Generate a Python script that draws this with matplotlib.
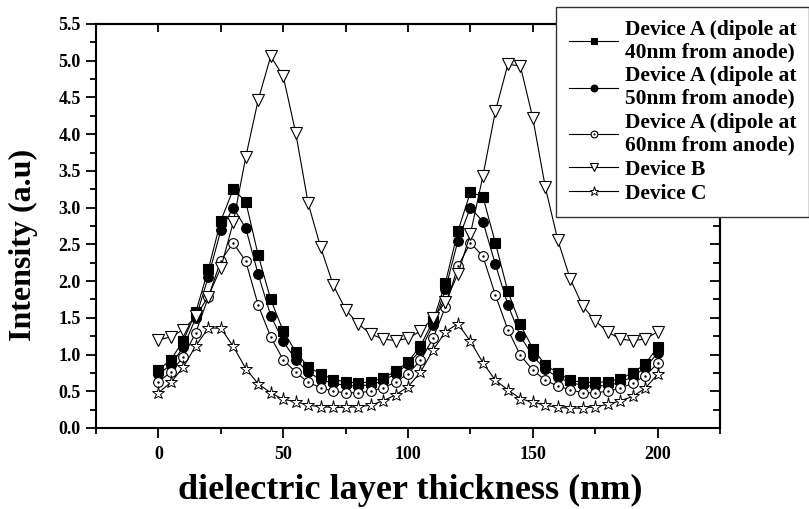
import matplotlib
matplotlib.use("Agg")
import matplotlib.pyplot as plt
from matplotlib.ticker import MultipleLocator

# thickness of the dielectric layer (nm)
thickness = [0, 5, 10, 15, 20, 25, 30, 35, 40, 45, 50, 55, 60, 65, 70, 75, 80,
             85, 90, 95, 100, 105, 110, 115, 120, 125, 130, 135, 140, 145, 150,
             155, 160, 165, 170, 175, 180, 185, 190, 195, 200]

# Device A, dipole 40nm from anode
dev_a40 = [0.79, 0.93, 1.19, 1.58, 2.16, 2.82, 3.25, 3.08, 2.35, 1.75, 1.32,
           1.04, 0.83, 0.74, 0.66, 0.63, 0.61, 0.63, 0.68, 0.77, 0.90, 1.12,
           1.45, 1.98, 2.68, 3.21, 3.15, 2.52, 1.86, 1.41, 1.08, 0.86, 0.75,
           0.65, 0.62, 0.62, 0.63, 0.67, 0.75, 0.87, 1.10]
# Device A, dipole 50nm from anode
dev_a50 = [0.73, 0.86, 1.10, 1.50, 2.06, 2.69, 3.00, 2.72, 2.09, 1.53, 1.18,
           0.93, 0.76, 0.66, 0.61, 0.58, 0.57, 0.59, 0.64, 0.74, 0.87, 1.06,
           1.40, 1.89, 2.55, 3.00, 2.81, 2.23, 1.68, 1.25, 0.98, 0.80, 0.69,
           0.62, 0.58, 0.57, 0.58, 0.62, 0.70, 0.82, 1.02]
# Device A, dipole 60nm from anode
dev_a60 = [0.63, 0.76, 0.97, 1.30, 1.78, 2.28, 2.52, 2.27, 1.67, 1.24, 0.93,
           0.76, 0.62, 0.55, 0.50, 0.48, 0.48, 0.50, 0.55, 0.62, 0.74, 0.92,
           1.22, 1.65, 2.20, 2.52, 2.34, 1.81, 1.34, 0.99, 0.79, 0.65, 0.57,
           0.52, 0.48, 0.48, 0.50, 0.54, 0.61, 0.71, 0.88]
# Device B
dev_b = [1.20, 1.24, 1.34, 1.52, 1.79, 2.18, 2.80, 3.69, 4.47, 5.06, 4.79,
         4.02, 3.06, 2.46, 1.95, 1.61, 1.42, 1.28, 1.21, 1.19, 1.22, 1.32,
         1.50, 1.71, 2.10, 2.64, 3.43, 4.31, 4.95, 4.93, 4.22, 3.28, 2.56,
         2.03, 1.66, 1.46, 1.31, 1.21, 1.19, 1.21, 1.31]
# Device C
dev_c = [0.48, 0.62, 0.83, 1.12, 1.36, 1.36, 1.11, 0.81, 0.60, 0.48, 0.39,
         0.36, 0.31, 0.29, 0.28, 0.28, 0.29, 0.31, 0.37, 0.45, 0.56, 0.76,
         1.06, 1.31, 1.42, 1.18, 0.89, 0.65, 0.52, 0.40, 0.35, 0.31, 0.28,
         0.27, 0.27, 0.29, 0.32, 0.37, 0.43, 0.54, 0.73]

labels = ["Device A (dipole at\n40nm from anode)",
          "Device A (dipole at\n50nm from anode)",
          "Device A (dipole at\n60nm from anode)",
          "Device B",
          "Device C"]

plt.rcParams['font.family'] = ['Liberation Serif', 'DejaVu Serif']
plt.rcParams['font.weight'] = 'bold'

W, H = 809, 509
fig = plt.figure(figsize=(W / 100, H / 100), dpi=100)
ax = fig.add_axes([96 / W, 1 - 428 / H, 624 / W, 404 / H])

lw = 0.8
l1, = ax.plot(thickness, dev_a40, '-s', color='black', lw=lw, ms=6.5,
              mfc='black', mec='black', mew=0.8)
l2, = ax.plot(thickness, dev_a50, '-o', color='black', lw=lw, ms=7,
              mfc='black', mec='black', mew=0.8)
l3, = ax.plot(thickness, dev_a60, '-o', color='black', lw=lw, ms=7,
              mfc='white', mec='black', mew=0.8)
l3dot, = ax.plot(thickness, dev_a60, '.', color='black', ms=1.5)
l4, = ax.plot(thickness, dev_b, '-v', color='black', lw=lw, ms=9,
              mfc='white', mec='black', mew=0.8)
l5, = ax.plot(thickness, dev_c, '-*', color='black', lw=lw, ms=9.5,
              mfc='white', mec='black', mew=0.7)

ax.set_xlim(-25, 225)
ax.set_ylim(0, 5.5)
ax.xaxis.set_major_locator(MultipleLocator(50))
ax.xaxis.set_minor_locator(MultipleLocator(25))
ax.yaxis.set_major_locator(MultipleLocator(0.5))
ax.yaxis.set_minor_locator(MultipleLocator(0.25))
ax.yaxis.set_major_formatter(plt.FormatStrFormatter('%.1f'))

for s in ax.spines.values():
    s.set_linewidth(1.5)

ax.tick_params(which='both', direction='out', width=1.3, top=False, right=False)
ax.tick_params(which='major', length=7)
ax.tick_params(which='minor', length=4)
ax.tick_params(axis='x', labelsize=13, pad=6)
ax.tick_params(axis='y', labelsize=13, pad=4)

# mirrored axes with inward ticks, no labels
top = ax.secondary_xaxis('top')
top.xaxis.set_major_locator(MultipleLocator(50))
top.xaxis.set_minor_locator(MultipleLocator(25))
top.tick_params(which='both', direction='in', length=6, width=1.3, labeltop=False)
top.spines['top'].set_linewidth(1.5)

right = ax.secondary_yaxis('right')
right.yaxis.set_major_locator(MultipleLocator(0.5))
right.yaxis.set_minor_locator(MultipleLocator(0.25))
right.tick_params(which='major', direction='in', length=7, width=1.3, labelright=False)
right.tick_params(which='minor', direction='in', length=5, width=1.3, labelright=False)
right.spines['right'].set_linewidth(1.5)

fig.text(23 / W, 1 - 245 / H, 'Intensity (a.u)', rotation=90, ha='center',
         va='center', fontsize=23, fontweight='bold')
fig.text(410 / W, 1 - 490 / H, 'dielectric layer thickness (nm)', ha='center',
         va='center', fontsize=26, fontweight='bold')

# open circles carry a small dot in the middle, also in the legend
leg = fig.legend([l1, l2, (l3, l3dot), l4, l5], labels,
                 loc='upper left', bbox_to_anchor=(556 / W, 1 - 7 / H),
                 bbox_transform=fig.transFigure, borderaxespad=0,
                 fancybox=False, framealpha=1, edgecolor='#333333',
                 prop={'size': 15.5, 'weight': 'bold'}, numpoints=1,
                 handlelength=2.3, handletextpad=0.3, labelspacing=0.2,
                 borderpad=0.6, markerscale=0.7)
leg.get_frame().set_linewidth(1.0)
for t in leg.get_texts():
    t.set_linespacing(1.15)

fig.savefig('out.png', dpi=100)
